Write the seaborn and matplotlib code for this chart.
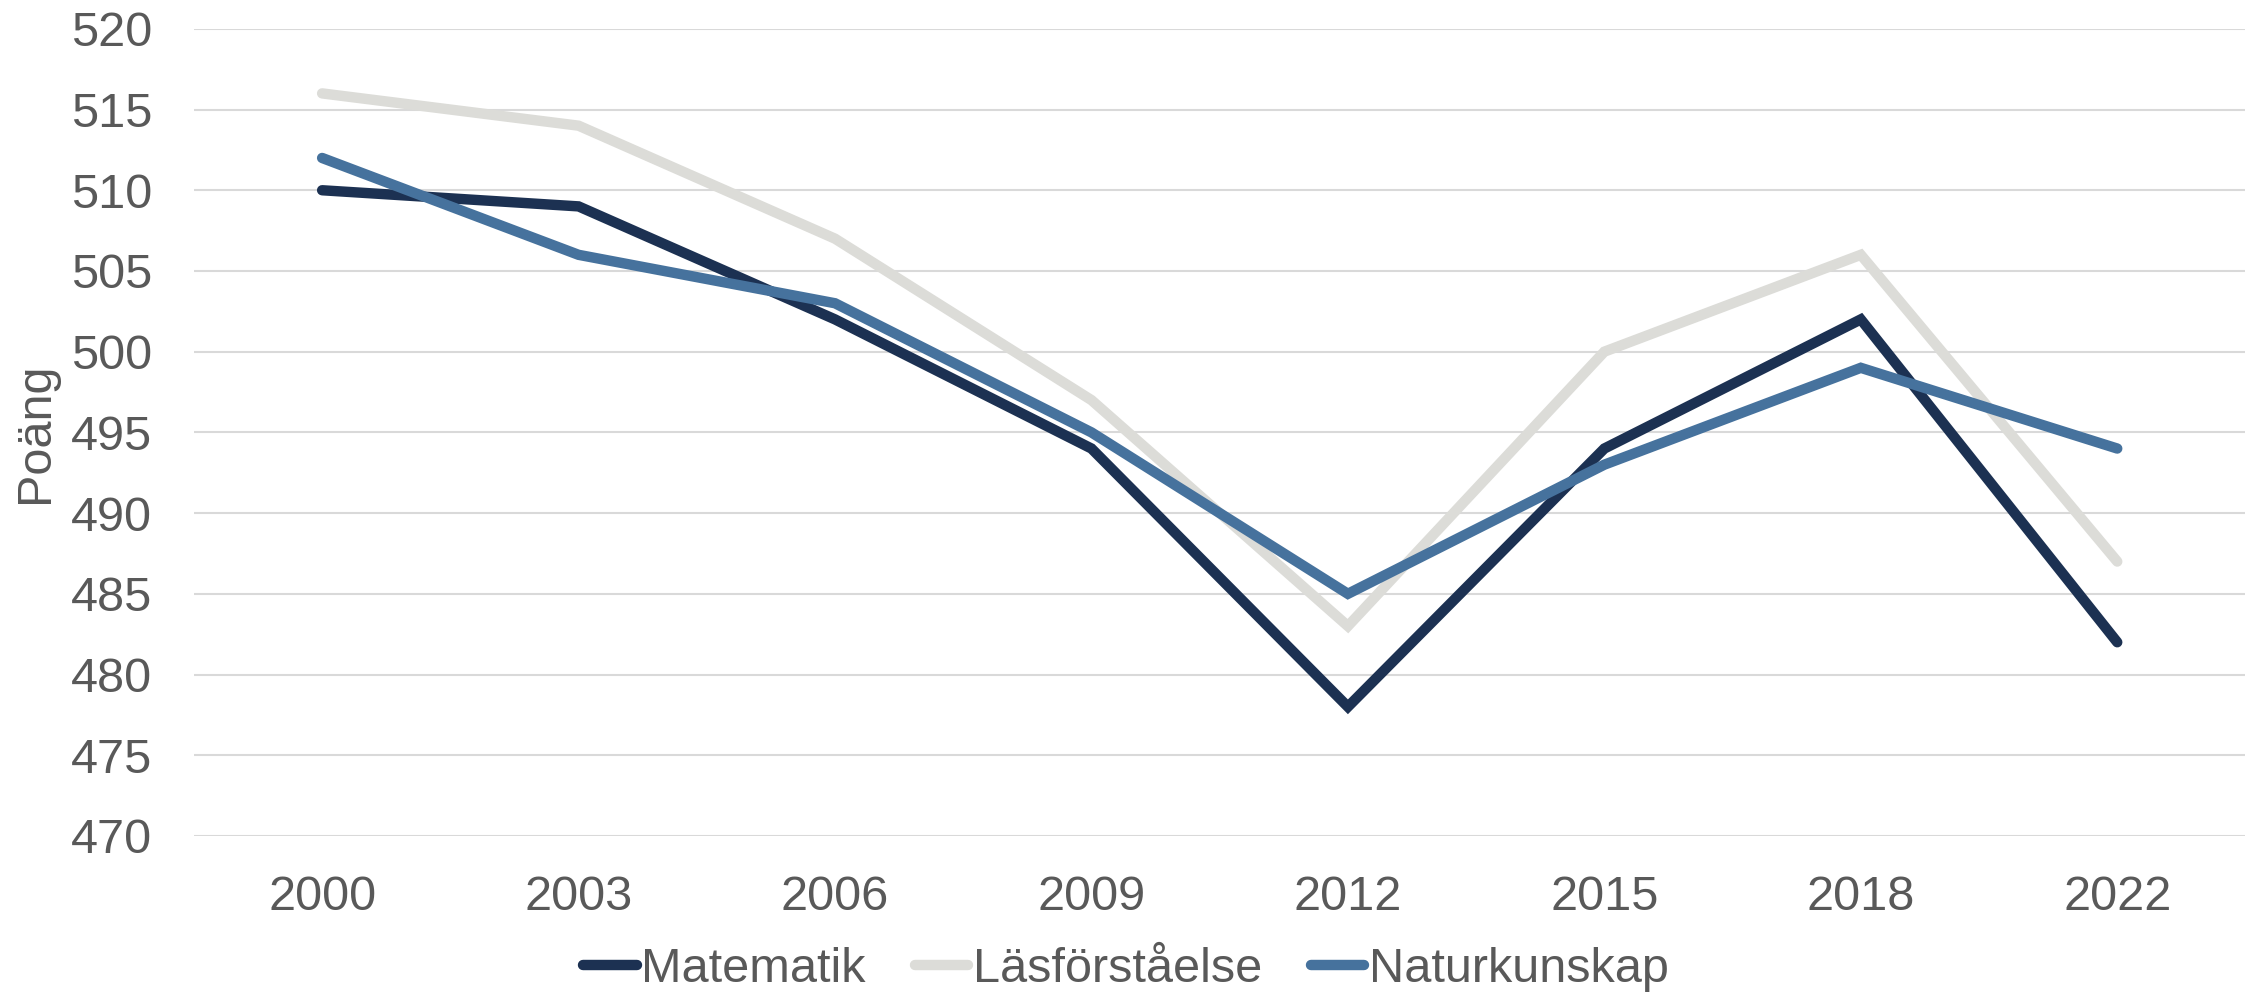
import numpy as np
import pandas as pd
import matplotlib
matplotlib.use("Agg")
import matplotlib.pyplot as plt
import seaborn as sns

# data
years = ["2000", "2003", "2006", "2009", "2012", "2015", "2018", "2022"]
matematik = [510, 509, 502, 494, 478, 494, 502, 482]
lasforstaelse = [516, 514, 507, 497, 483, 500, 506, 487]
naturkunskap = [512, 506, 503, 495, 485, 493, 499, 494]
series_names = ["Matematik", "Läsförståelse", "Naturkunskap"]
colors = ["#1c3152", "#dcdcd8", "#46729d"]

df = pd.DataFrame({
    "pos": list(range(len(years))) * 3,
    "value": matematik + lasforstaelse + naturkunskap,
    "serie": [s for s in series_names for _ in years],
})

sns.set_style("white")
plt.rcParams["font.family"] = ["Liberation Sans", "DejaVu Sans"]
text_col = "#595959"

fig = plt.figure(figsize=(22.52, 9.94), dpi=100)
ax = fig.add_axes([0.0861, 0.159, 0.911, 0.812])

sns.lineplot(data=df, x="pos", y="value", hue="serie", palette=colors,
             hue_order=series_names, ax=ax, legend=True)
for ln in ax.get_lines():
    ln.set_linewidth(7.5)
    ln.set_solid_capstyle("round")
    ln.set_solid_joinstyle("miter")

ax.set_xlim(-0.5, len(years) - 0.5)
ax.set_ylim(470, 520)
ax.set_yticks(np.arange(470, 521, 5))
ax.set_xticks(range(len(years)))
ax.set_xticklabels(years)
ax.yaxis.grid(True, color="#d9d9d9", linewidth=1.5)
ax.set_axisbelow(True)
for sp in ax.spines.values():
    sp.set_visible(False)
ax.tick_params(axis="both", length=0, labelsize=35, colors=text_col)
ax.tick_params(axis="y", pad=30)
ax.tick_params(axis="x", pad=28)
ax.set_xlabel("")
ax.set_ylabel("Poäng", fontsize=35, color=text_col)
ax.yaxis.set_label_coords(-0.066, 0.5)

ax.get_legend().remove()
handles, labels = ax.get_legend_handles_labels()
leg = fig.legend(handles[:3], labels[:3], loc="center", bbox_to_anchor=(0.5, 0.025),
                 ncol=3, frameon=False, fontsize=35, handlelength=1.1,
                 handletextpad=0.1, columnspacing=1.0, borderpad=0)
for t in leg.get_texts():
    t.set_color(text_col)
for h in leg.get_lines():
    h.set_linewidth(7.5)
    h.set_solid_capstyle("round")

fig.savefig("out.png", dpi=100)
